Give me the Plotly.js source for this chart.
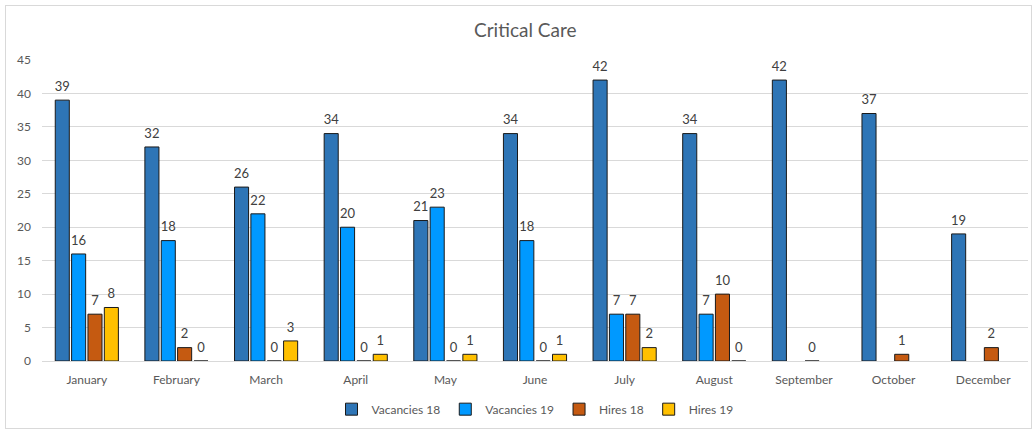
<!DOCTYPE html>
<html>
<head>
<meta charset="utf-8">
<script src="https://cdn.plot.ly/plotly-3.0.1.min.js"></script>
<style>
html,body{margin:0;padding:0;background:#fff;}
#wrap{position:relative;width:1036px;height:432px;}
#chart{width:1036px;height:432px;}
#frame{position:absolute;left:5px;top:5px;width:1027px;height:424px;border:1px solid #D9D9D9;pointer-events:none;box-sizing:border-box;}
</style>
</head>
<body>
<div id="wrap"><div id="chart"></div><div id="frame"></div></div>
<script>
var months = ["January","February","March","April","May","June","July","August","September","October","December"];
var vacancies18 = [39,32,26,34,21,34,42,34,42,37,19];
var vacancies19 = [16,18,22,20,23,18,7,7,null,null,null];
var hires18 = [7,2,0,0,0,0,7,10,0,1,2];
var hires19 = [8,0,3,1,1,1,2,0,null,null,null];

var font = "Lato, 'Open Sans', sans-serif";
var series = [
  {name:'Vacancies 18', vals:vacancies18, color:'#2E75B6'},
  {name:'Vacancies 19', vals:vacancies19, color:'#0099FF'},
  {name:'Hires 18', vals:hires18, color:'#C55A11'},
  {name:'Hires 19', vals:hires19, color:'#FFC000'}
];
var data = [];
series.forEach(function(s){
  data.push({
    type:'bar', name:s.name, x:months, y:s.vals,
    marker:{color:s.color, line:{color:'#1a1a1a', width:1}}
  });
});
series.forEach(function(s){
  data.push({
    type:'scatter', mode:'markers+text', name:s.name+' labels', showlegend:false,
    x:months, y:s.vals,
    text:s.vals.map(function(v){return v===null?'':String(v);}),
    textposition:'top center', cliponaxis:false,
    marker:{size:8, opacity:0, color:s.color},
    textfont:{family:font, size:13, color:'#404040'}
  });
});
var layout = {
  width:1036, height:432,
  margin:{l:42, r:8, t:60, b:69},
  paper_bgcolor:'#fff', plot_bgcolor:'#fff',
  font:{family:font, size:12, color:'#595959'},
  title:{text:'Critical Care', x:0.507, xanchor:'center', y:0.93, yanchor:'middle', font:{family:font, size:19, color:'#595959'}},
  barmode:'group', bargap:0.27, bargroupgap:0.14,
  scattermode:'group', scattergap:0.27,
  xaxis:{showgrid:false, showline:true, linecolor:'#D9D9D9', ticks:'', ticklabelstandoff:8, tickfont:{family:font, size:12, color:'#595959'}},
  yaxis:{range:[0,45], dtick:5, showgrid:true, gridcolor:'#D9D9D9', gridwidth:1, zeroline:false, showline:false, ticks:'', tickfont:{family:font, size:12, color:'#595959'}, ticklabelstandoff:10},
  legend:{orientation:'h', x:0.5, xanchor:'center', y:-0.16, yanchor:'middle', font:{family:font, size:12, color:'#595959'}, itemwidth:30},
  showlegend:true
};
Plotly.newPlot('chart', data, layout, {displayModeBar:false, staticPlot:true});
</script>
</body>
</html>
